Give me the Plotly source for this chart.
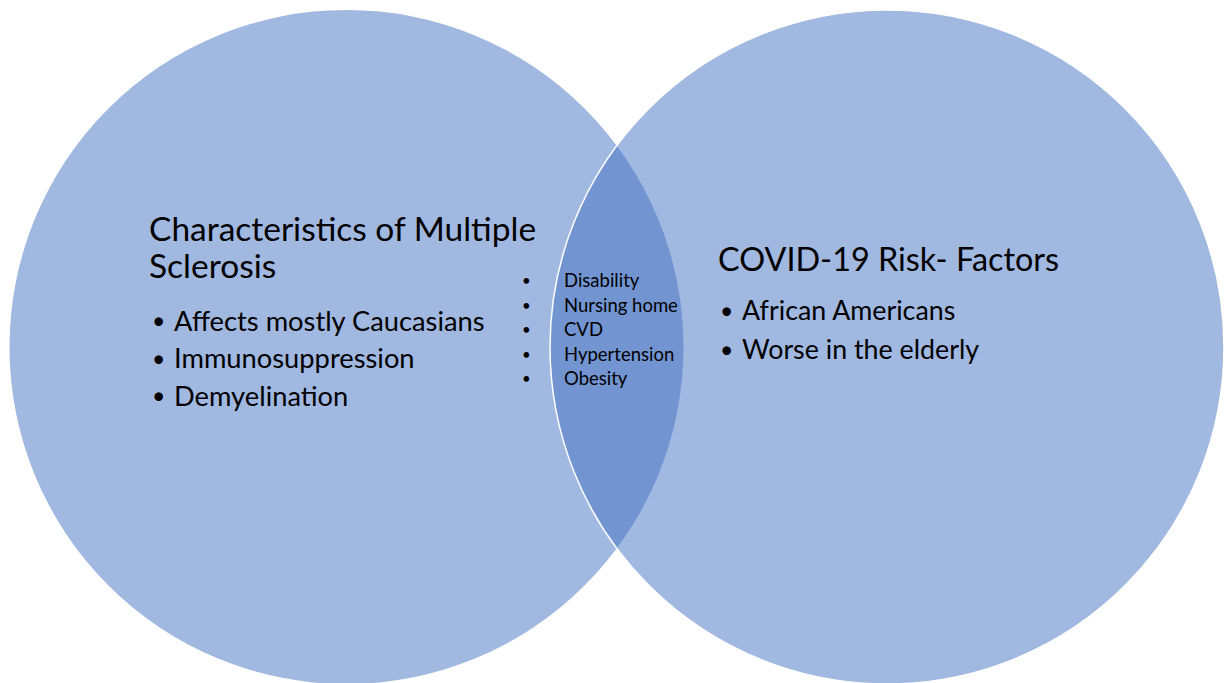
import plotly.graph_objects as go

# ---- data ----
left_title = ["Characteristics of Multiple", "Sclerosis"]
right_title = ["COVID-19 Risk- Factors"]
left_items = ["Affects mostly Caucasians", "Immunosuppression", "Demyelination"]
shared_items = ["Disability", "Nursing home", "CVD", "Hypertension", "Obesity"]
right_items = ["African Americans", "Worse in the elderly"]

# ---- layout constants ----
W, H = 1230, 683
FONT = "Lato, 'Open Sans', sans-serif"
CIRCLE_FILL = "rgba(68,114,196,0.5)"
R = 337
CY = 347
CX_LEFT, CX_RIGHT = 346.5, 887

fig = go.Figure()

fig.add_shape(type="circle", xref="x", yref="y",
              x0=CX_LEFT - R, x1=CX_LEFT + R, y0=CY - R, y1=CY + R,
              fillcolor=CIRCLE_FILL, line=dict(width=0), layer="below")
fig.add_shape(type="circle", xref="x", yref="y",
              x0=CX_RIGHT - R, x1=CX_RIGHT + R, y0=CY - R, y1=CY + R,
              fillcolor=CIRCLE_FILL, line=dict(width=1.5, color="white"), layer="below")


def text(x, y, s, size, anchor="left", yanchor="middle"):
    fig.add_annotation(x=x, y=y, xref="x", yref="y", text=s, showarrow=False,
                       xanchor=anchor, yanchor=yanchor, align="left",
                       font=dict(family=FONT, size=size, color="black"))


# titles
for i, s in enumerate(left_title):
    text(147, 228 + i * 37, s, 33.5)
for i, s in enumerate(right_title):
    text(716, 258 + i * 37, s, 32.4)

# left list
for i, s in enumerate(left_items):
    y = 320 + i * 37.5
    text(150, y, "•", 23)
    text(172, y, s, 27.3)

# shared list
for i, s in enumerate(shared_items):
    y = 280 + i * 24.5
    text(520, y, "•", 15)
    text(562, y, s, 18.5)

# right list
for i, s in enumerate(right_items):
    y = 310 + i * 38.5
    text(718, y, "•", 23)
    text(740, y, s, 26.8)

fig.update_xaxes(range=[0, W], visible=False, fixedrange=True)
fig.update_yaxes(range=[H, 0], visible=False, fixedrange=True)
fig.update_layout(width=W, height=H, margin=dict(l=0, r=0, t=0, b=0),
                  plot_bgcolor="white", paper_bgcolor="white", showlegend=False)

fig.write_html("out.html", config={"displayModeBar": False},
               post_script="document.body.style.margin='0';document.body.style.overflow='hidden';")
